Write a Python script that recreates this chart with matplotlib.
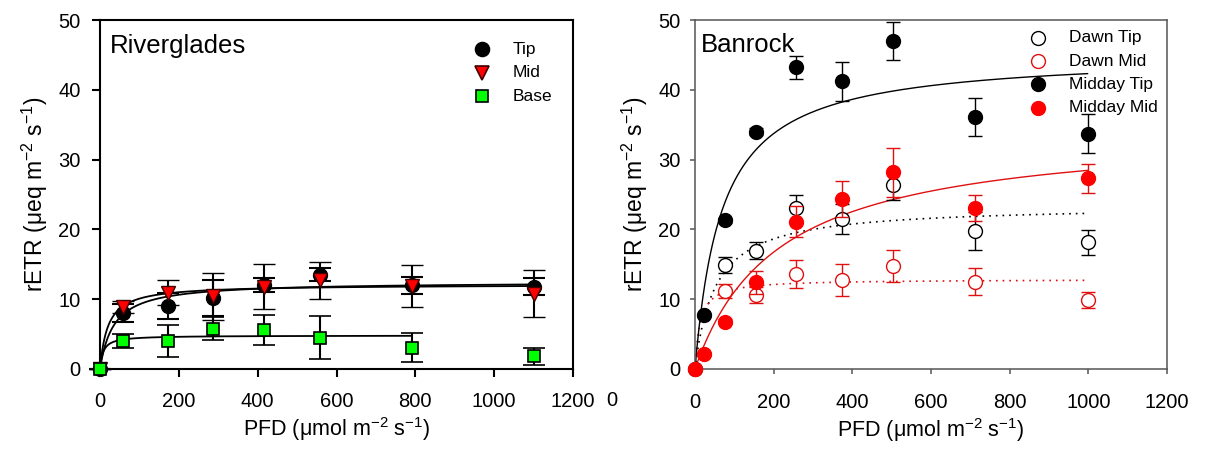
import numpy as np
import matplotlib
matplotlib.use('Agg')
import matplotlib.pyplot as plt

plt.rcParams['font.family'] = ['Liberation Sans', 'DejaVu Sans']
plt.rcParams['mathtext.fontset'] = 'custom'
plt.rcParams['mathtext.rm'] = 'Liberation Sans'
plt.rcParams['mathtext.it'] = 'Liberation Sans:italic'
plt.rcParams['mathtext.default'] = 'regular'

# Riverglades light curves
rg_pfd = [0, 58, 173, 287, 416, 558, 791, 1101]
rg_tip = [0, 8.0, 9.0, 10.2, 12.0, 13.5, 12.0, 11.8]
rg_tip_err = [0, 1.3, 1.9, 2.6, 1.0, 0.9, 1.2, 1.2]
rg_mid = [0, 8.9, 10.9, 10.4, 11.8, 12.7, 11.9, 10.8]
rg_mid_err = [0, 0.9, 1.8, 3.4, 3.2, 2.7, 3.0, 3.4]
rg_base = [0, 4.05, 4.05, 5.8, 5.6, 4.5, 3.05, 1.8]
rg_base_err = [0, 1.0, 2.3, 1.65, 2.2, 3.1, 2.1, 1.25]

# Banrock light curves
bk_pfd_dawn = [76, 155, 258, 375, 504, 713, 998]
bk_dawn_tip = [14.9, 16.95, 23.0, 21.5, 26.3, 19.8, 18.15]
bk_dawn_tip_err = [1.1, 1.2, 2.0, 2.2, 2.1, 2.7, 1.8]
bk_dawn_mid = [11.2, 10.6, 13.6, 12.75, 14.75, 12.5, 9.9]
bk_dawn_mid_err = [1.0, 1.2, 2.0, 2.3, 2.3, 1.9, 1.2]
bk_pfd_midday = [0, 24, 76, 156, 258, 375, 504, 713, 998]
bk_midday_tip = [0, 7.7, 21.3, 34.0, 43.2, 41.2, 47.0, 36.1, 33.7]
bk_midday_tip_err = [0, 0.3, 0.4, 0.5, 1.6, 2.8, 2.7, 2.7, 2.8]
bk_midday_mid = [0, 2.15, 6.8, 12.4, 21.1, 24.4, 28.2, 23.1, 27.3]
bk_midday_mid_err = [0, 0.3, 0.4, 1.6, 2.2, 2.6, 3.5, 1.9, 2.1]

# fitted saturation curves: P = Pmax * I / (K + I)
rg_fit = {'tip': (12.5, 35, 1101), 'mid': (12.1, 20, 1101), 'base': (4.8, 8, 791)}
bk_fit = {'dawn_tip': (23.45, 51.6, 998), 'dawn_mid': (12.86, 12.5, 998),
          'midday_tip': (45.2, 68, 998), 'midday_mid': (34.5, 212, 998)}


def fit_line(pmax, k, xmax):
    x = np.linspace(0, xmax, 400)
    return x, pmax * x / (k + x)


W, H = 1205, 449
fig = plt.figure(figsize=(W / 100, H / 100), dpi=100)
ax1 = fig.add_axes([100 / W, 80 / H, 473 / W, 349 / H])
ax2 = fig.add_axes([695 / W, 80 / H, 472 / W, 349 / H])

xlab = 'PFD (μmol m$^{-2}$ s$^{-1}$)'
ylab = 'rETR (μeq m$^{-2}$ s$^{-1}$)'

# ---- Riverglades ----
for key in ['tip', 'mid', 'base']:
    x, y = fit_line(*rg_fit[key])
    ax1.plot(x, y, color='black', lw=1.3, zorder=2)

ax1.errorbar(rg_pfd, rg_tip, yerr=rg_tip_err, fmt='o', color='black', ms=10,
             mec='black', ecolor='black', elinewidth=1.5, capsize=8, capthick=1.5,
             zorder=3, clip_on=False)
ax1.errorbar(rg_pfd, rg_mid, yerr=rg_mid_err, fmt='v', color='#ff0000', ms=10,
             mec='#400000', mew=1, ecolor='black', elinewidth=1.5, capsize=8,
             capthick=1.5, zorder=4, clip_on=False)
ax1.errorbar(rg_pfd, rg_base, yerr=rg_base_err, fmt='s', color='#00ff00', ms=9,
             mec='black', mew=1.2, ecolor='black', elinewidth=1.5, capsize=8,
             capthick=1.5, zorder=5, clip_on=False)

legend1 = [('o', 'black', 'black', 'Tip'), ('v', '#ff0000', '#400000', 'Mid'),
           ('s', '#00ff00', 'black', 'Base')]
for i, (m, fc, ec, lab) in enumerate(legend1):
    yy = 0.916 - i * 0.067
    ax1.plot([0.807], [yy], marker=m, ms=10 if m != 's' else 9, mfc=fc, mec=ec,
             mew=1.2, transform=ax1.transAxes, ls='none')
    ax1.text(0.8725, yy, lab, transform=ax1.transAxes, fontsize=12.5, va='center')

ax1.text(0.021, 0.905, 'Riverglades', transform=ax1.transAxes, fontsize=18.5,
         va='baseline')

# ---- Banrock ----
red = '#e01010'
x, y = fit_line(*bk_fit['dawn_tip'])
ax2.plot(x, y, color='black', lw=1.2, ls=(0, (1, 3)), zorder=2)
x, y = fit_line(*bk_fit['dawn_mid'])
ax2.plot(x, y, color=red, lw=1.2, ls=(0, (1, 3)), zorder=2)
x, y = fit_line(*bk_fit['midday_tip'])
ax2.plot(x, y, color='black', lw=1.0, zorder=2)
x, y = fit_line(*bk_fit['midday_mid'])
ax2.plot(x, y, color=red, lw=1.0, zorder=2)

ax2.errorbar(bk_pfd_dawn, bk_dawn_tip, yerr=bk_dawn_tip_err, fmt='o', ms=10,
             mfc='white', mec='black', mew=1.0, ecolor='black', elinewidth=1.0,
             capsize=5, capthick=1.0, zorder=3)
ax2.errorbar(bk_pfd_dawn, bk_dawn_mid, yerr=bk_dawn_mid_err, fmt='o', ms=10,
             mfc='white', mec=red, mew=1.0, ecolor=red, elinewidth=1.0,
             capsize=5, capthick=1.0, zorder=3)
ax2.errorbar(bk_pfd_midday, bk_midday_tip, yerr=bk_midday_tip_err, fmt='o', ms=10,
             mfc='black', mec='black', ecolor='black', elinewidth=1.0,
             capsize=5, capthick=1.0, zorder=4, clip_on=False)
ax2.errorbar(bk_pfd_midday, bk_midday_mid, yerr=bk_midday_mid_err, fmt='o', ms=10,
             mfc='#ff0000', mec='#ff0000', ecolor=red, elinewidth=1.0,
             capsize=5, capthick=1.0, zorder=5, clip_on=False)

legend2 = [('white', 'black', 'Dawn Tip'), ('white', red, 'Dawn Mid'),
           ('black', 'black', 'Midday Tip'), ('#ff0000', '#ff0000', 'Midday Mid')]
for i, (fc, ec, lab) in enumerate(legend2):
    yy = 0.949 - i * 0.0667
    ax2.plot([0.726], [yy], marker='o', ms=10, mfc=fc, mec=ec, mew=1.0,
             transform=ax2.transAxes, ls='none')
    ax2.text(0.792, yy, lab, transform=ax2.transAxes, fontsize=12.5, va='center')

ax2.text(0.012, 0.908, 'Banrock', transform=ax2.transAxes, fontsize=18.5,
         va='baseline')

# ---- axes styling ----
for ax, sc, slw, tlen, ypad, xpad in [(ax1, 'black', 1.5, 6, 8, 10.5),
                                      (ax2, '#555555', 1.1, 3.5, 7, 13.5)]:
    ax.set_xlim(0, 1200)
    ax.set_ylim(0, 50)
    ax.set_xticks(range(0, 1201, 200))
    ax.set_yticks(range(0, 51, 10))
    for s in ax.spines.values():
        s.set_color(sc)
        s.set_linewidth(slw)
    ax.tick_params(axis='x', direction='out', length=tlen, width=slw, color=sc,
                   labelsize=14.5, pad=xpad)
    ax.tick_params(axis='y', direction='out', length=tlen, width=slw, color=sc,
                   labelsize=14.5, pad=ypad)

ax1.set_xlabel(xlab, fontsize=15.5, labelpad=3)
ax2.set_xlabel(xlab, fontsize=15.5, labelpad=3)
ax1.set_ylabel(ylab, fontsize=16.5, labelpad=6)
ax2.set_ylabel(ylab, fontsize=16.5, labelpad=6)

fig.text(612 / W, 1 - 401 / H, '0', fontsize=14.5, ha='center', va='center')

fig.savefig('out.png', dpi=100)
